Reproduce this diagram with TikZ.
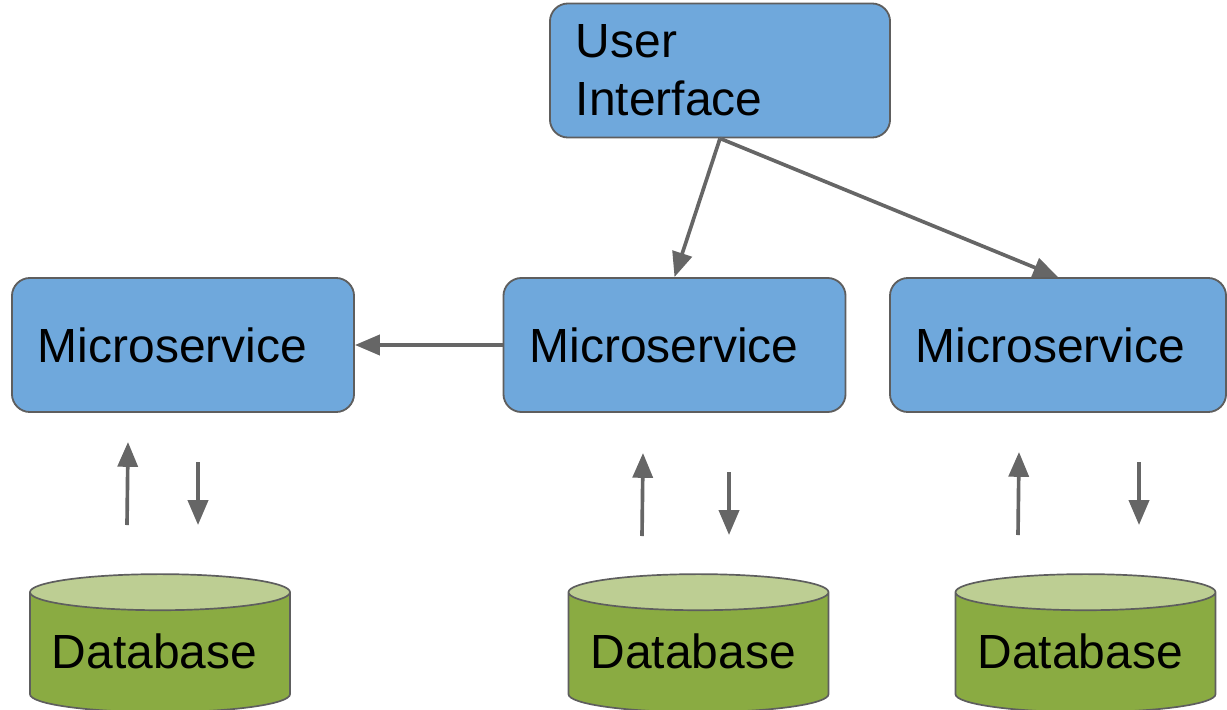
\documentclass[tikz,border=0pt]{standalone}
\usepackage{fontspec}
\setmainfont{Liberation Sans}
\usetikzlibrary{shapes.geometric,arrows.meta}
\definecolor{msblue}{HTML}{6FA8DC}
\definecolor{edgegray}{HTML}{5E5E5E}
\definecolor{arrowgray}{HTML}{666666}
\definecolor{dbgreen}{HTML}{8AAB42}
\definecolor{dbtop}{HTML}{BDCE93}

\begin{document}
\begin{tikzpicture}[x=0.025cm, y=-0.025cm,
    >={Triangle[length=0.62cm, width=0.5cm]},
    font=\fontsize{34.1pt}{41pt}\selectfont,
    box/.style={draw=edgegray, line width=1.3pt, fill=msblue, rounded corners=0.45cm,
        minimum height=3.35cm, text width=7.25cm, inner xsep=0.65cm, align=left},
    db/.style={cylinder, shape border rotate=90, aspect=0.16, draw=edgegray,
        line width=1.2pt, cylinder uses custom fill, cylinder body fill=dbgreen,
        cylinder end fill=dbtop, minimum width=6.5cm, minimum height=3.45cm,
        text width=5.4cm, text depth=0.2cm, align=left},
    link/.style={draw=arrowgray, line width=2.6pt}]

        \useasboundingbox (0,0) rectangle (1227,709);

        \node (ui) [box, text width=7.2cm] at (720,70.5) {User\\Interface};

        \node (ms_1) [box] at (183,345) {Microservice};
        \node (ms_2) [box] at (674.5,345) {Microservice};
        \node (ms_3) [box, text width=7.1cm] at (1058,345) {Microservice};

        \node (db_1) [db] at (160,655) {Database};
        \node (db_2) [db] at (698.5,655) {Database};
        \node (db_3) [db] at (1085.5,655) {Database};

        \coordinate (up_1a) at (127,525);
        \coordinate (up_1b) at (128,442);
        \coordinate (down_1a) at (198,462);
        \coordinate (down_1b) at (198,525);
        \coordinate (up_2a) at (642,536);
        \coordinate (up_2b) at (643,453);
        \coordinate (down_2a) at (729,472);
        \coordinate (down_2b) at (729,535);
        \coordinate (up_3a) at (1018,535);
        \coordinate (up_3b) at (1019,452);
        \coordinate (down_3a) at (1139,462);
        \coordinate (down_3b) at (1139,525);

        \path (ui.south) edge[link, ->] (ms_2.north);
        \path (ui.south) edge[link, ->] (ms_3.north);
        \path (ms_2.west) edge[link, ->] (ms_1.east);

        \path (up_1a) edge[link, ->] (up_1b);
        \path (down_1a) edge[link, ->] (down_1b);
        \path (up_2a) edge[link, ->] (up_2b);
        \path (down_2a) edge[link, ->] (down_2b);
        \path (up_3a) edge[link, ->] (up_3b);
        \path (down_3a) edge[link, ->] (down_3b);
    \end{tikzpicture}
\end{document}
